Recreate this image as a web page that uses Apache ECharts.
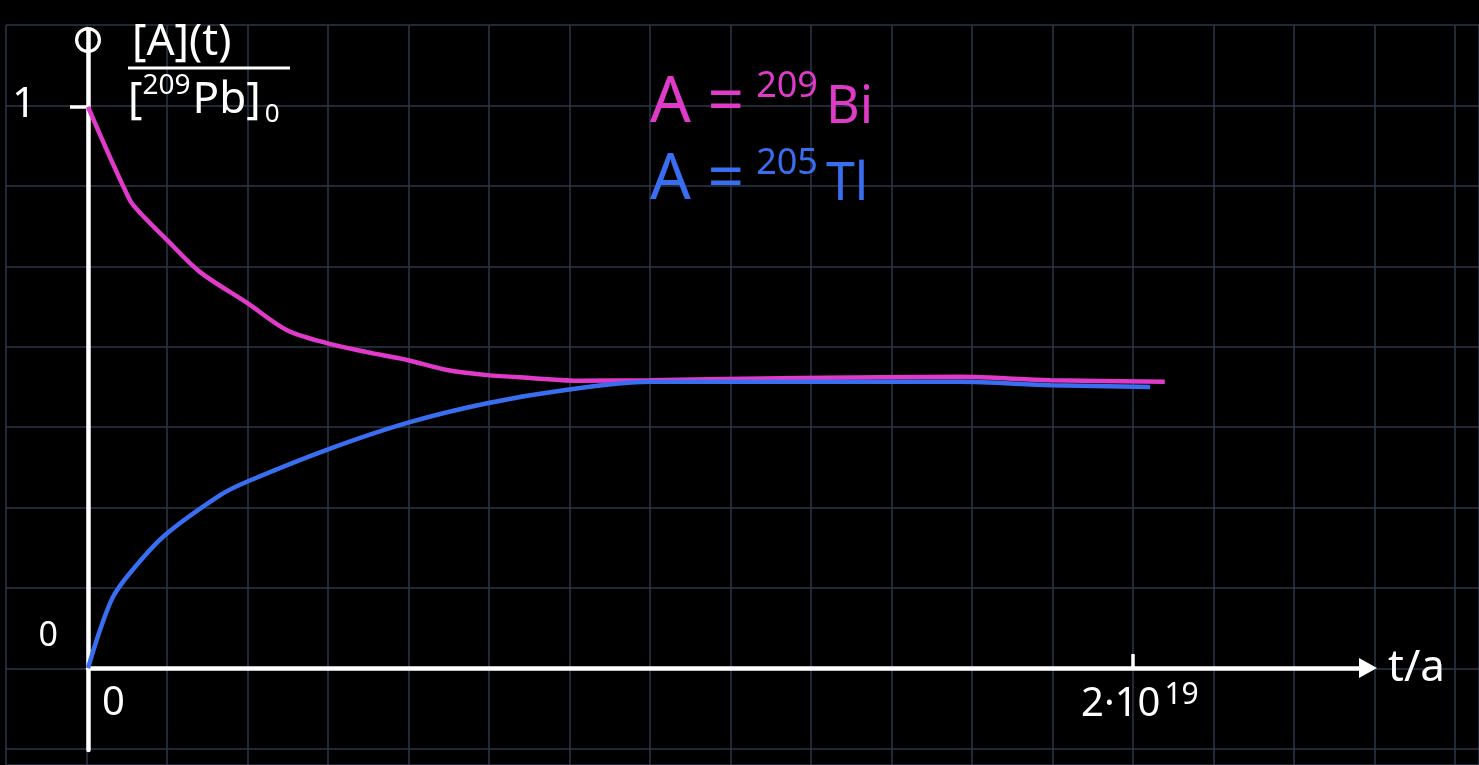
<!DOCTYPE html>
<html>
<head>
<meta charset="utf-8">
<script src="https://cdn.jsdelivr.net/npm/echarts@6/dist/echarts.min.js"></script>
<style>
  html, body { margin: 0; padding: 0; background: #000; }
  #chart { width: 1479px; height: 765px; }
</style>
</head>
<body>
<div id="chart"></div>
<script>
var chartDom = document.getElementById('chart')
var myChart = echarts.init(chartDom)

// t in units of 1e19 a, value = [A](t) / [209Pb]_0
var biT = [0, 0.08, 0.10, 0.151, 0.214, 0.304, 0.381, 0.457, 0.534, 0.611, 0.687, 0.764, 0.846, 0.942, 1.076, 1.363, 1.669, 1.841, 2.061]
var biY = [1.0, 0.834, 0.811, 0.763, 0.706, 0.651, 0.602, 0.579, 0.563, 0.549, 0.531, 0.522, 0.517, 0.512, 0.513, 0.517, 0.519, 0.513, 0.510]
var tlT = [0, 0.023, 0.048, 0.08, 0.144, 0.253, 0.304, 0.457, 0.611, 0.764, 0.917, 1.074, 1.363, 1.669, 1.843, 2.033]
var tlY = [0, 0.068, 0.127, 0.169, 0.234, 0.308, 0.332, 0.389, 0.437, 0.472, 0.496, 0.510, 0.510, 0.510, 0.504, 0.501]

var xTicks = [0, 2]
var yTicks = [0, 1]

var names = ['A = 209Bi', 'A = 205Tl']
var colors = ['#e03ac9', '#3a6ef0']

function pairs(xs, ys) {
  return xs.map(function(x, i) { return [x, ys[i]] })
}

var font = 'Noto Sans'
var gridColor = '#2c374a'

var option = {
  backgroundColor: '#000',
  animation: false,
  textStyle: { fontFamily: font },
  grid: [
    // graph paper behind everything
    { left: 6, top: 25, right: 0, bottom: 0, show: false, outerBoundsMode: 'none' },
    // the actual plot
    { left: 88, top: 30, width: 1280, height: 720, show: false, outerBoundsMode: 'none' }
  ],
  xAxis: [
    {
      gridIndex: 0, type: 'value', min: 0, max: 18.3, interval: 1,
      axisLine: { show: false }, axisTick: { show: false }, axisLabel: { show: false },
      splitLine: { lineStyle: { color: gridColor, width: 1.5 } }
    },
    {
      gridIndex: 1, type: 'value', min: 0, max: 2.45,
      name: 't/a', nameLocation: 'end', nameGap: 20,
      nameTextStyle: { color: '#fff', fontSize: 44, verticalAlign: 'middle', padding: [8, 0, 0, 0] },
      axisLine: {
        onZero: true,
        symbol: ['none', 'triangle'], symbolSize: [20, 18], symbolOffset: [0, 0],
        lineStyle: { color: '#fff', width: 4.5 }
      },
      axisTick: { show: true, inside: true, customValues: [2], length: 14, lineStyle: { color: '#fff', width: 3.5 } },
      axisLabel: {
        // labels stay at the grid bottom, pull them up under the zero line
        customValues: xTicks, color: '#fff', fontSize: 34, margin: -70,
        formatter: function(v) { return v === 0 ? '{a|0}' : '{a|2·10}{s|19}' },
        rich: {
          a: { fontSize: 40, color: '#fff', padding: [4, 0, 0, 14] },
          s: { fontSize: 30, color: '#fff', verticalAlign: 'top', padding: [0, 0, 16, 4] }
        },
        alignMinLabel: 'left'
      },
      splitLine: { show: false }
    }
  ],
  yAxis: [
    {
      gridIndex: 0, type: 'value', min: 0, max: 9.2, interval: 1, inverse: true,
      axisLine: { show: false }, axisTick: { show: false }, axisLabel: { show: false },
      splitLine: { lineStyle: { color: gridColor, width: 1.5 } }
    },
    {
      gridIndex: 1, type: 'value', min: -0.146, max: 1.137,
      name: '{num|[A](t)}\n{bar|}\n{den|[}{sup|209}{den|Pb]}{sub|0}',
      nameLocation: 'end', nameGap: -44,
      nameTextStyle: {
        align: 'left', verticalAlign: 'middle', padding: [0, 0, 0, 40], color: '#fff',
        rich: {
          num: { fontSize: 44, color: '#fff', lineHeight: 44, padding: [0, 0, 0, 4] },
          bar: { width: 162, height: 3, backgroundColor: '#fff', lineHeight: 8 },
          den: { fontSize: 44, color: '#fff', lineHeight: 56 },
          sup: { fontSize: 28, color: '#fff', verticalAlign: 'top', padding: [0, 2, 14, 0] },
          sub: { fontSize: 26, color: '#fff', verticalAlign: 'bottom', padding: [18, 0, 0, 4] }
        }
      },
      axisLine: {
        onZero: false,
        symbol: ['none', 'path://M0,-12A12,12 0 1,1 0,12A12,12 0 1,1 0,-12Z M0,-9A9,9 0 1,0 0,9A9,9 0 1,0 0,-9Z'],
        symbolSize: [26, 26], symbolOffset: [0, -10],
        lineStyle: { color: '#fff', width: 4.5 }
      },
      axisTick: { show: true, customValues: [1], length: 18, lineStyle: { color: '#fff', width: 3.5 } },
      axisLabel: {
        customValues: yTicks, color: '#fff', fontSize: 34, margin: 30,
        formatter: function(v) { return v === 0 ? '{z|0}' : '{o|1}' },
        rich: {
          o: { fontSize: 42, color: '#fff', padding: [0, 22, 4, 0] },
          z: { fontSize: 34, color: '#fff', padding: [0, 0, 64, 0] }
        }
      },
      splitLine: { show: false }
    }
  ],
  legend: {
    left: 640, top: 64, orient: 'vertical', itemGap: 10,
    icon: 'none', itemWidth: 0, itemHeight: 0,
    data: [
      { name: names[0], textStyle: { color: colors[0] } },
      { name: names[1], textStyle: { color: colors[1] } }
    ],
    formatter: function(name) {
      var p = name.split(' ')
      var iso = p[2].match(/^(\d+)(\D+)$/)
      return '{a|A =}{s|' + iso[1] + '}{e|' + iso[2] + '}'
    },
    textStyle: {
      rich: {
        a: { fontSize: 64, lineHeight: 70 },
        s: { fontSize: 36, verticalAlign: 'top', padding: [0, 8, 26, 12] },
        e: { fontSize: 52, padding: [8, 0, 0, 0] }
      }
    }
  },
  series: [
    {
      name: names[0], type: 'line', xAxisIndex: 1, yAxisIndex: 1,
      data: pairs(biT, biY), smooth: 0.3, showSymbol: false,
      lineStyle: { color: colors[0], width: 4.5 }, itemStyle: { color: colors[0] }
    },
    {
      name: names[1], type: 'line', xAxisIndex: 1, yAxisIndex: 1,
      data: pairs(tlT, tlY), smooth: 0.3, showSymbol: false,
      lineStyle: { color: colors[1], width: 4.5 }, itemStyle: { color: colors[1] }
    }
  ]
}

myChart.setOption(option)
</script>
</body>
</html>
